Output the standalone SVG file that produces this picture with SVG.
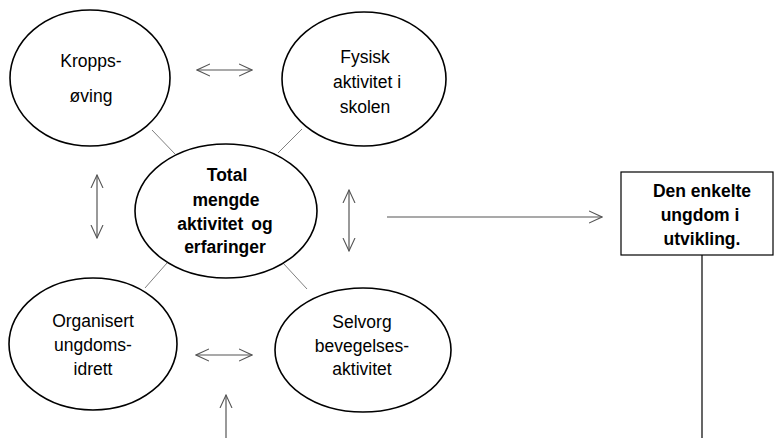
<svg xmlns="http://www.w3.org/2000/svg" width="774" height="438" viewBox="0 0 774 438">
<style>
.n{fill:#fff;stroke:#000;stroke-width:1.6}
.t{font-family:"Liberation Sans",Arial,sans-serif;font-size:17.5px;fill:#000;text-anchor:middle}
.b{font-weight:bold}
.c{stroke:#808080;stroke-width:1;fill:none}
.a{stroke:#555;stroke-width:1.2;fill:none}
</style>
<defs>
<marker id="h" viewBox="0 0 14 14" refX="13" refY="7" markerWidth="14" markerHeight="14" markerUnits="userSpaceOnUse" orient="auto-start-reverse">
<polyline points="0,1 13,7 0,13" fill="none" stroke="#555" stroke-width="1.1"/>
</marker>
</defs>
<rect width="774" height="438" fill="#fff"/>
<g id="connectors">
<line class="c" x1="152" y1="130" x2="175" y2="154"/>
<line class="c" x1="302" y1="129" x2="278" y2="153"/>
<line class="c" x1="167" y1="263" x2="145" y2="288"/>
<line class="c" x1="283" y1="263" x2="307" y2="289"/>
<line class="a" x1="197" y1="70" x2="252" y2="70" marker-start="url(#h)" marker-end="url(#h)"/>
<line class="a" x1="196" y1="355" x2="252" y2="355" marker-start="url(#h)" marker-end="url(#h)"/>
<line class="a" x1="97" y1="175" x2="97" y2="238" marker-start="url(#h)" marker-end="url(#h)"/>
<line class="a" x1="349" y1="190" x2="349" y2="251" marker-start="url(#h)" marker-end="url(#h)"/>
<line class="a" x1="387" y1="217" x2="602" y2="217" marker-end="url(#h)"/>
<line class="a" x1="226" y1="438" x2="226" y2="395" marker-end="url(#h)"/>
<line stroke="#000" stroke-width="1.2" x1="702" y1="255" x2="702" y2="438"/>
</g>
<g id="kroppsoving">
<ellipse class="n" cx="90" cy="78" rx="80" ry="68"/>
<text class="t" x="91" y="67">Kropps-</text>
<text class="t" x="91" y="102">øving</text>
</g>
<g id="fysisk">
<ellipse class="n" cx="364" cy="79" rx="82" ry="67"/>
<text class="t" x="365" y="63">Fysisk</text>
<text class="t" x="367" y="88">aktivitet i</text>
<text class="t" x="365" y="113">skolen</text>
</g>
<g id="total">
<ellipse class="n" cx="226" cy="211" rx="91" ry="67"/>
<text class="t b" x="227" y="181">Total</text>
<text class="t b" x="226" y="206">mengde</text>
<text class="t b" x="225" y="230" word-spacing="3">aktivitet og</text>
<text class="t b" x="225" y="253">erfaringer</text>
</g>
<g id="organisert">
<ellipse class="n" cx="93" cy="344" rx="84" ry="66"/>
<text class="t" x="93" y="327">Organisert</text>
<text class="t" x="93" y="351">ungdoms-</text>
<text class="t" x="93" y="375">idrett</text>
</g>
<g id="selvorg">
<ellipse class="n" cx="363" cy="350" rx="88" ry="62"/>
<text class="t" x="362" y="328">Selvorg</text>
<text class="t" x="362" y="352">bevegelses-</text>
<text class="t" x="362" y="375">aktivitet</text>
</g>
<g id="ungdom">
<rect x="621" y="172" width="152" height="83" fill="#fff" stroke="#000" stroke-width="1.2"/>
<text class="t b" x="702" y="197">Den enkelte</text>
<text class="t b" x="700" y="221">ungdom i</text>
<text class="t b" x="702" y="245">utvikling.</text>
</g>
</svg>
